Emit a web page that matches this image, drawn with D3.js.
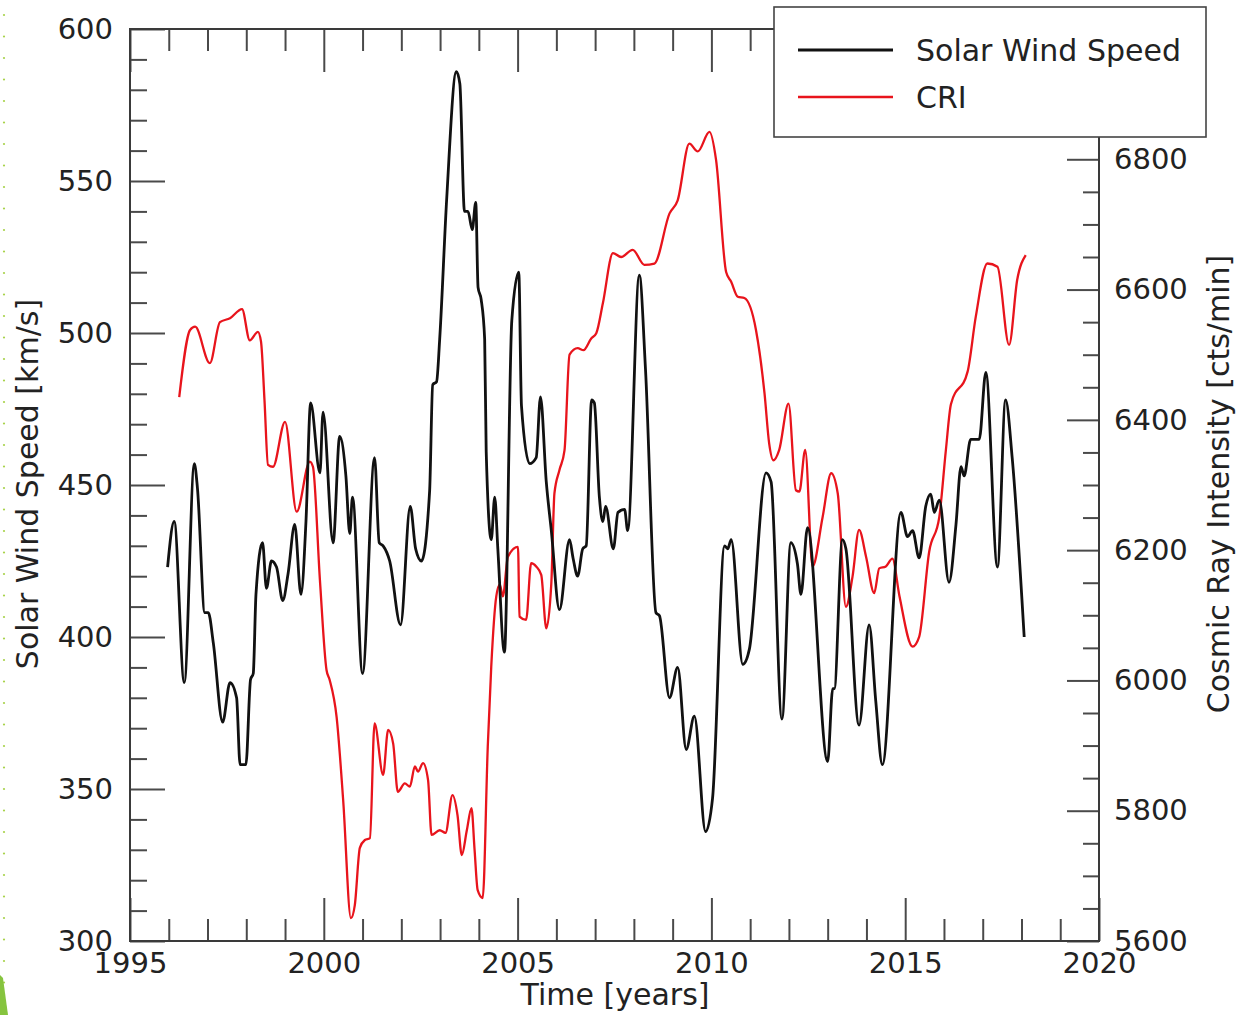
<!DOCTYPE html>
<html>
<head>
<meta charset="utf-8">
<script src="https://cdn.jsdelivr.net/npm/d3@7"></script>
<style>
  body { margin: 0; background: #fff; }
  svg { display: block; }
  text { font-family: "DejaVu Sans", sans-serif; fill: #222; }
</style>
</head>
<body>
<svg id="chart" width="1240" height="1015"></svg>
<script>
// Solar wind speed (km/s), smoothed
const swYears = [1995.97,1996.14,1996.40,1996.66,1996.74,1996.93,1997.02,1997.15,1997.39,1997.58,1997.75,1997.84,1997.99,
  1998.11,1998.18,1998.25,1998.42,1998.52,1998.65,1998.78,1998.94,1999.08,1999.25,1999.41,1999.54,1999.66,1999.90,1999.98,
  2000.24,2000.41,2000.57,2000.67,2000.74,2001.00,2001.31,2001.43,2001.53,2001.70,2001.98,2002.23,2002.37,2002.52,2002.73,
  2002.81,2002.91,2002.99,2003.17,2003.42,2003.51,2003.63,2003.72,2003.83,2003.92,2003.98,2004.06,2004.15,2004.19,2004.32,
  2004.41,2004.49,2004.66,2004.85,2005.03,2005.10,2005.31,2005.48,2005.59,2005.74,2005.87,2006.08,2006.34,2006.43,2006.55,
  2006.68,2006.77,2006.91,2006.98,2007.11,2007.20,2007.27,2007.47,2007.59,2007.76,2007.84,2008.14,2008.30,2008.57,2008.66,
  2008.92,2009.13,2009.35,2009.56,2009.85,2010.03,2010.34,2010.42,2010.51,2010.81,2010.98,2011.41,2011.54,2011.82,2012.05,
  2012.22,2012.31,2012.48,2013.00,2013.13,2013.17,2013.38,2013.47,2013.81,2014.07,2014.24,2014.41,2014.89,2015.06,2015.19,
  2015.36,2015.53,2015.66,2015.75,2015.88,2016.13,2016.31,2016.44,2016.52,2016.69,2016.91,2017.08,2017.38,2017.59,2017.76,
  2018.07];
const swSpeed = [423,438,385,457,449,408,408,398,372,385,380,358,358,
  386,388,414,431,416,425,423,412,421,437,414,438,477,454,474,
  431,466,453,434,446,388,459,431,430,425,404,443,429,425,448,
  483,484,498,544,586,582,540,540,534,543,515,511,498,461,432,
  446,429,395,504,520,476,457,459,479,451,435,409,432,426,420,
  429,430,478,477,446,438,443,429,441,442,435,519,488,408,407,
  380,390,363,374,336,347,430,429,432,391,396,454,451,373,431,
  424,414,436,359,383,383,432,429,371,404,379,358,441,433,435,
  426,443,447,441,445,418,437,456,453,465,465,487,423,478,459,
  400];

// Cosmic ray intensity (counts/min)
const criYears = [1996.27,1996.55,1996.68,1997.06,1997.32,1997.58,1997.89,1998.09,1998.30,1998.38,1998.47,1998.56,1998.69,
  1999.00,1999.30,1999.64,1999.72,1999.90,2000.07,2000.15,2000.33,2000.50,2000.70,2000.80,2000.93,2001.06,2001.19,2001.31,
  2001.53,2001.66,2001.79,2001.91,2002.09,2002.22,2002.35,2002.43,2002.56,2002.69,2002.78,2002.99,2003.14,2003.32,2003.45,
  2003.56,2003.69,2003.81,2003.89,2003.97,2004.10,2004.23,2004.32,2004.45,2004.54,2004.62,2004.75,2005.01,2005.05,2005.22,
  2005.35,2005.48,2005.61,2005.74,2005.87,2005.95,2006.08,2006.21,2006.34,2006.55,2006.70,2006.90,2007.03,2007.20,2007.46,
  2007.67,2007.97,2008.27,2008.53,2008.92,2009.13,2009.43,2009.65,2009.95,2010.12,2010.38,2010.51,2010.68,2010.85,2011.15,
  2011.37,2011.49,2011.60,2011.75,2011.99,2012.18,2012.27,2012.42,2012.61,2012.87,2013.09,2013.26,2013.47,2013.64,2013.81,
  2013.99,2014.20,2014.33,2014.50,2014.67,2014.85,2015.19,2015.36,2015.62,2015.88,2016.05,2016.18,2016.61,2016.82,2017.12,
  2017.38,2017.68,2017.89,2018.11];
const criCounts = [6435,6538,6543,6487,6550,6556,6570,6522,6535,6520,6430,6331,6328,
  6397,6259,6336,6328,6154,6016,6001,5944,5816,5635,5655,5743,5755,5758,5934,
  5855,5924,5903,5829,5842,5837,5868,5860,5873,5847,5763,5770,5766,5824,5793,
  5732,5770,5804,5740,5678,5666,5898,6021,6129,6147,6129,6190,6205,6098,6093,
  6180,6175,6162,6080,6149,6287,6323,6353,6500,6510,6507,6525,6533,6579,6656,
  6650,6661,6638,6640,6717,6737,6824,6812,6842,6799,6627,6612,6589,6587,6538,
  6441,6364,6338,6354,6425,6292,6290,6354,6175,6251,6318,6287,6113,6159,6231,
  6190,6134,6172,6175,6187,6130,6052,6067,6198,6251,6354,6424,6474,6558,6640,
  6635,6515,6615,6653];

// Axis ticks
const yearTicks = [1995, 2000, 2005, 2010, 2015, 2020];
const swTicks = [300, 350, 400, 450, 500, 550, 600];
const criTicks = [5600, 5800, 6000, 6200, 6400, 6600, 6800];

const seriesNames = ["Solar Wind Speed", "CRI"];
const seriesColors = ["#111111", "#e8141c"];

const svg = d3.select("#chart");
const plot = { left: 130, right: 1099, top: 29, bottom: 941 };

const x = d3.scaleLinear().domain([1995, 2020]).range([plot.left, plot.right]);
const ySW = d3.scaleLinear().domain([300, 600]).range([plot.bottom, plot.top]);
const yCRI = d3.scaleLinear().domain([5600, 7000]).range([plot.bottom, plot.top]);

const yearMinor = d3.range(1995, 2021).filter(v => v % 5 !== 0);
const swMinor = d3.range(300, 601, 10).filter(v => v % 50 !== 0);
const criMinor = d3.range(5600, 7001, 50).filter(v => v % 200 !== 0);

const TICK_FS = 29;
const TITLE_FS = 30;

function styleAxis(g) {
  g.select(".domain").remove();
  g.selectAll(".tick line").attr("stroke", "#4a4a4a").attr("stroke-width", 2);
  g.selectAll(".tick text").style("font-size", TICK_FS + "px").style("fill", "#222").attr("font-family", null);
}

// bottom axis: years
svg.append("g").attr("transform", `translate(0,${plot.bottom})`)
  .call(d3.axisBottom(x).tickValues(yearTicks).tickFormat(d3.format("d")).tickSizeInner(-43).tickSizeOuter(0).tickPadding(11))
  .call(styleAxis);
svg.append("g").attr("transform", `translate(0,${plot.bottom})`)
  .call(d3.axisBottom(x).tickValues(yearMinor).tickFormat("").tickSizeInner(-22).tickSizeOuter(0))
  .call(styleAxis);

// top axis (mirrored ticks)
svg.append("g").attr("transform", `translate(0,${plot.top})`)
  .call(d3.axisTop(x).tickValues(yearTicks).tickFormat("").tickSizeInner(-43).tickSizeOuter(0))
  .call(styleAxis);
svg.append("g").attr("transform", `translate(0,${plot.top})`)
  .call(d3.axisTop(x).tickValues(yearMinor).tickFormat("").tickSizeInner(-22).tickSizeOuter(0))
  .call(styleAxis);

// left axis: solar wind speed
svg.append("g").attr("transform", `translate(${plot.left},0)`)
  .call(d3.axisLeft(ySW).tickValues(swTicks).tickFormat(d3.format("d")).tickSizeInner(-35).tickSizeOuter(0).tickPadding(17))
  .call(styleAxis);
svg.append("g").attr("transform", `translate(${plot.left},0)`)
  .call(d3.axisLeft(ySW).tickValues(swMinor).tickFormat("").tickSizeInner(-17).tickSizeOuter(0))
  .call(styleAxis);

// right axis: cosmic ray intensity
svg.append("g").attr("transform", `translate(${plot.right},0)`)
  .call(d3.axisRight(yCRI).tickValues(criTicks).tickFormat(d3.format("d")).tickSizeInner(-32).tickSizeOuter(0).tickPadding(15))
  .call(styleAxis);
svg.append("g").attr("transform", `translate(${plot.right},0)`)
  .call(d3.axisRight(yCRI).tickValues(criMinor).tickFormat("").tickSizeInner(-16).tickSizeOuter(0))
  .call(styleAxis);

// frame
svg.append("rect")
  .attr("x", plot.left).attr("y", plot.top)
  .attr("width", plot.right - plot.left).attr("height", plot.bottom - plot.top)
  .attr("fill", "none").attr("stroke", "#3a3a3a").attr("stroke-width", 2);

// data lines
svg.append("clipPath").attr("id", "plotClip").append("rect")
  .attr("x", plot.left).attr("y", plot.top)
  .attr("width", plot.right - plot.left).attr("height", plot.bottom - plot.top);

const lines = svg.append("g").attr("clip-path", "url(#plotClip)");

const criLine = d3.line().curve(d3.curveMonotoneX).x((d, i) => x(criYears[i])).y(d => yCRI(d));
lines.append("path").datum(criCounts)
  .attr("d", criLine).attr("fill", "none")
  .attr("stroke", seriesColors[1]).attr("stroke-width", 2.3).attr("stroke-linejoin", "round");

const swLine = d3.line().curve(d3.curveMonotoneX).x((d, i) => x(swYears[i])).y(d => ySW(d));
lines.append("path").datum(swSpeed)
  .attr("d", swLine).attr("fill", "none")
  .attr("stroke", seriesColors[0]).attr("stroke-width", 2.8).attr("stroke-linejoin", "round");

// axis titles
svg.append("text")
  .attr("transform", "translate(615,1005)")
  .attr("text-anchor", "middle").style("font-size", TITLE_FS + "px")
  .text("Time [years]");
svg.append("text")
  .attr("transform", "translate(38,484) rotate(-90)")
  .attr("text-anchor", "middle").style("font-size", TITLE_FS + "px")
  .text("Solar Wind Speed [km/s]");
svg.append("text")
  .attr("transform", "translate(1229,484) rotate(-90)")
  .attr("text-anchor", "middle").style("font-size", TITLE_FS + "px")
  .text("Cosmic Ray Intensity [cts/min]");

// legend
const legend = svg.append("g");
legend.append("rect")
  .attr("x", 774).attr("y", 7).attr("width", 432).attr("height", 130)
  .attr("fill", "#fff").attr("stroke", "#444").attr("stroke-width", 1.6);
seriesNames.forEach((name, i) => {
  const yy = 50 + i * 47;
  legend.append("line").attr("x1", 798).attr("x2", 893).attr("y1", yy).attr("y2", yy)
    .attr("stroke", seriesColors[i]).attr("stroke-width", i === 0 ? 2.8 : 2.3);
  legend.append("text").attr("x", 916).attr("y", yy).attr("dy", "0.35em")
    .style("font-size", TITLE_FS + "px").text(name);
});

// slide edge decoration on the far left
const deco = svg.append("g");
deco.selectAll("circle").data(d3.range(15, 1000, 21.5)).join("circle")
  .attr("cx", 4).attr("cy", d => d).attr("r", 1.1).attr("fill", "#a8d24a");
deco.append("path").attr("d", "M0,975 L3,978 L8,1015 L0,1015 Z").attr("fill", "#86c43f");
</script>
</body>
</html>
